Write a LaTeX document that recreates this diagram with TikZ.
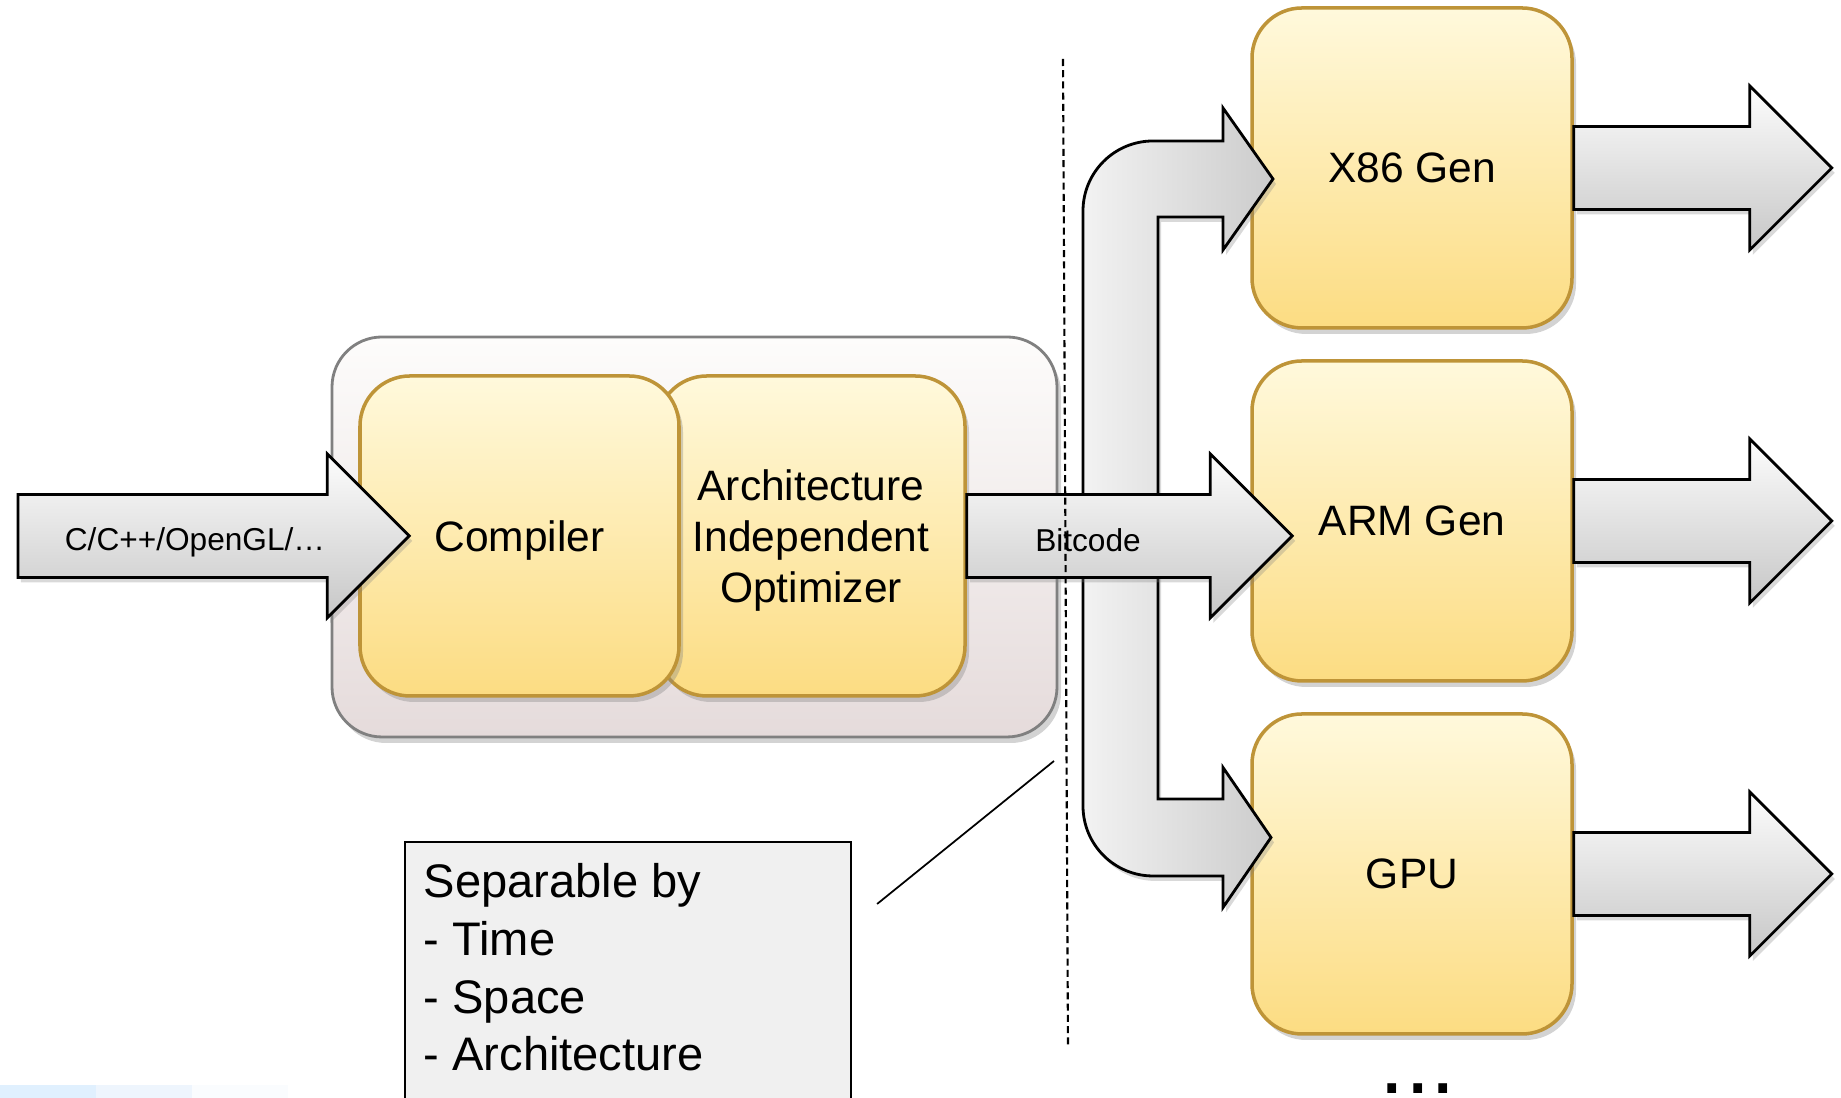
\documentclass[tikz,border=0pt]{standalone}
\usepackage{fontspec}
\setmainfont{Liberation Sans}
\usetikzlibrary{positioning,calc,shadows}
\definecolor{boxtop}{RGB}{255,249,220}
\definecolor{boxbot}{RGB}{252,220,130}
\definecolor{boxline}{RGB}{190,148,56}
\definecolor{grptop}{RGB}{253,252,251}
\definecolor{grpbot}{RGB}{229,219,219}
\definecolor{notefill}{RGB}{240,240,240}
\definecolor{bar1}{RGB}{224,240,254}
\definecolor{bar2}{RGB}{238,245,253}
\definecolor{bar3}{RGB}{250,252,254}
\tikzset{
  blk/.style={draw=boxline,line width=1pt,rounded corners=0.5cm,top color=boxtop,bottom color=boxbot,
    minimum width=3.2cm,minimum height=3.2cm,align=center,font=\fontsize{12.1}{14.5}\selectfont,
    drop shadow={opacity=0.35,shadow xshift=0.04cm,shadow yshift=-0.06cm}},
  grp/.style={draw=black!50,line width=0.8pt,rounded corners=0.5cm,top color=grptop,bottom color=grpbot,
    drop shadow={opacity=0.35,shadow xshift=0.04cm,shadow yshift=-0.06cm}},
  arr/.style={draw=black,line width=0.8pt,line join=miter,top color=black!1,middle color=black!9,bottom color=black!22,
    drop shadow={opacity=0.3,shadow xshift=0.03cm,shadow yshift=-0.05cm}},
  splitarr/.style={draw=black,line width=0.8pt,left color=black!5,right color=black!20,
    drop shadow={opacity=0.3,shadow xshift=0.03cm,shadow yshift=-0.05cm}},
  albl/.style={font=\fontsize{9}{11}\selectfont,inner sep=0pt},
  note/.style={draw=black,line width=0.6pt,fill=notefill,minimum width=4.46cm,minimum height=2.9cm,anchor=north west},
  notetxt/.style={align=left,inner sep=0pt,font=\fontsize{13.4}{16.4}\selectfont},
  cut/.style={line width=0.6pt,dash pattern=on 2pt off 1.2pt},
}
\newcommand{\harrow}[2]{%
  \path[arr] let \p1=(#1), \p2=(#2) in
    (\x1,\y2+0.415cm) -- (\x2-0.82cm,\y2+0.415cm) -- (\x2-0.82cm,\y2+0.82cm) -- (\p2)
    -- (\x2-0.82cm,\y2-0.82cm) -- (\x2-0.82cm,\y2-0.415cm) -- (\x1,\y2-0.415cm) -- cycle;}

\begin{document}
\begin{tikzpicture}
  \useasboundingbox (0,0) rectangle (18.41,10.98);
  \fill[bar1] (0,0) rectangle (0.96,0.13);
  \fill[bar2] (0.96,0) rectangle (1.92,0.13);
  \fill[bar3] (1.92,0) rectangle (2.88,0.13);

  \node[grp,minimum width=7.25cm,minimum height=4cm] (grp) at (6.945,5.61) {};
  \node[blk,minimum width=3.08cm,text depth=0pt] (opt) at (8.11,5.62) {Architecture\\Independent\\Optimizer};
  \node[blk,minimum width=3.19cm,text depth=0pt] (comp) at (5.195,5.62) {Compiler};
  \foreach \nm/\y/\t in {x86/9.30/X86 Gen, arm/5.77/ARM Gen, gpu/2.24/GPU}
    \node[blk] (\nm) at (14.12,\y) {\t};

  \path[splitarr] (10.83,8.87) arc[start angle=180,end angle=90,radius=0.7]
    -- (12.23,9.57) -- (12.23,9.90) -- (12.73,9.19) -- (12.23,8.48) -- (12.23,8.81)
    -- (11.58,8.81) -- (11.58,2.99) -- (12.23,2.99) -- (12.23,3.305) -- (12.71,2.605)
    -- (12.23,1.905) -- (12.23,2.22) -- (11.53,2.22) arc[start angle=270,end angle=180,radius=0.7]
    -- cycle;

  \coordinate (src) at (0.18,5.62);
  \coordinate (comptip) at ($(comp.west)+(0.51,0)$);
  \coordinate (bctip) at ($(arm.west |- opt.east)+(0.42,0)$);
  \harrow{src}{comptip}
  \harrow{opt.east}{bctip}
  \foreach \nm in {x86,arm,gpu} {
    \coordinate (\nm out) at ($(\nm.east)+(2.58,0)$);
    \harrow{\nm.east}{\nm out}
  }
  \node[albl] (srclbl) at (1.95,5.56) {C/C++/OpenGL/…};
  \node[albl] (bclbl) at (10.88,5.58) {Bitcode};

  \coordinate (cut1) at (10.63,10.39);
  \coordinate (cut2) at (10.68,0.50);
  \draw[cut] (cut1) -- (cut2);

  \node[note] (note) at (4.04,2.57) {};
  \node[notetxt,below right=0.22cm and 0.19cm of note.north west] (notetxt)
    {Separable by\\- Time\\- Space\\- Architecture};
  \coordinate (callout) at (10.54,3.37);
  \draw[line width=0.5pt] ($(note.north east)+(0.25,-0.63)$) -- (callout);

  \node[anchor=base west,inner sep=0pt,font=\fontsize{26}{26}\selectfont] (more) at (13.79,0.04) {...};
\end{tikzpicture}
\end{document}
